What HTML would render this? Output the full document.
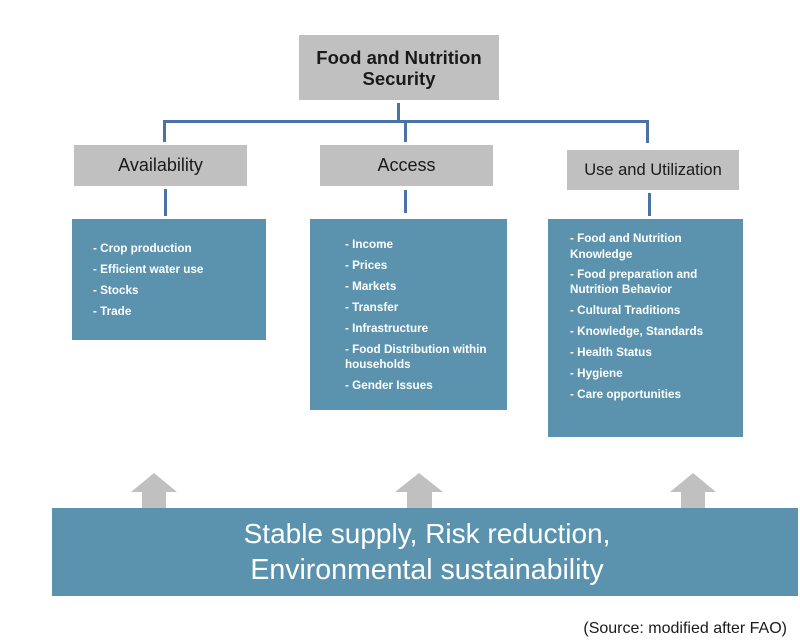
<!DOCTYPE html>
<html>
<head>
<meta charset="utf-8">
<style>
  html, body { margin: 0; padding: 0; background: #ffffff; }
  body { width: 800px; height: 640px; overflow: hidden; }
  svg { display: block; }
  .t { font-family: "Liberation Sans", Arial, sans-serif; }
  .item { font-family: "Liberation Sans", Arial, sans-serif; font-weight: bold; font-size: 11.7px; fill: #ffffff; }
</style>
</head>
<body>
<svg width="800" height="640" viewBox="0 0 800 640" xmlns="http://www.w3.org/2000/svg">
  <rect x="0" y="0" width="800" height="640" fill="#ffffff"/>

  <!-- Top box -->
  <rect x="299" y="35" width="200" height="65" fill="#c0c0c0"/>
  <text class="t" x="399" y="64" text-anchor="middle" font-size="18.5" font-weight="bold" fill="#1a1a1a">Food and Nutrition</text>
  <text class="t" x="399" y="85" text-anchor="middle" font-size="18.5" font-weight="bold" fill="#1a1a1a">Security</text>

  <!-- Connectors -->
  <g fill="#4a72a9">
    <rect x="397" y="103" width="3" height="19"/>
    <rect x="163" y="120" width="486" height="3"/>
    <rect x="163" y="120" width="3" height="22"/>
    <rect x="404" y="120" width="3" height="22"/>
    <rect x="646" y="120" width="3" height="23"/>
    <rect x="164" y="189" width="3" height="27"/>
    <rect x="404" y="190" width="3" height="23"/>
    <rect x="648" y="193" width="3" height="23"/>
  </g>

  <!-- Second level gray boxes -->
  <rect x="74" y="145" width="173" height="41" fill="#c0c0c0"/>
  <text class="t" x="160.5" y="171" text-anchor="middle" font-size="18" fill="#1a1a1a">Availability</text>

  <rect x="320" y="145" width="173" height="41" fill="#c0c0c0"/>
  <text class="t" x="406.5" y="171" text-anchor="middle" font-size="18" fill="#1a1a1a">Access</text>

  <rect x="567" y="150" width="172" height="40" fill="#c0c0c0"/>
  <text class="t" x="653" y="175" text-anchor="middle" font-size="16.5" fill="#1a1a1a">Use and Utilization</text>

  <!-- Blue detail boxes -->
  <rect x="72" y="219" width="194" height="121" fill="#5b93ae"/>
  <text class="item" x="93" y="252">- Crop production</text>
  <text class="item" x="93" y="273">- Efficient water use</text>
  <text class="item" x="93" y="294">- Stocks</text>
  <text class="item" x="93" y="315">- Trade</text>

  <rect x="310" y="219" width="197" height="191" fill="#5b93ae"/>
  <text class="item" x="345" y="248">- Income</text>
  <text class="item" x="345" y="269">- Prices</text>
  <text class="item" x="345" y="290">- Markets</text>
  <text class="item" x="345" y="311">- Transfer</text>
  <text class="item" x="345" y="332">- Infrastructure</text>
  <text class="item" x="345" y="353">- Food Distribution within</text>
  <text class="item" x="345" y="368">households</text>
  <text class="item" x="345" y="389">- Gender Issues</text>

  <rect x="548" y="219" width="195" height="218" fill="#5b93ae"/>
  <text class="item" x="570" y="242">- Food and Nutrition</text>
  <text class="item" x="570" y="258">Knowledge</text>
  <text class="item" x="570" y="278">- Food preparation and</text>
  <text class="item" x="570" y="293">Nutrition Behavior</text>
  <text class="item" x="570" y="314">- Cultural Traditions</text>
  <text class="item" x="570" y="335">- Knowledge, Standards</text>
  <text class="item" x="570" y="356">- Health Status</text>
  <text class="item" x="570" y="377">- Hygiene</text>
  <text class="item" x="570" y="398">- Care opportunities</text>

  <!-- Up arrows -->
  <g fill="#c0c0c0">
    <polygon points="154,473 177,492 166,492 166,509 142,509 142,492 131,492"/>
    <polygon points="419,473 443,492 432,492 432,509 407,509 407,492 395,492"/>
    <polygon points="693,473 716,492 705,492 705,509 681,509 681,492 670,492"/>
  </g>

  <!-- Bottom bar -->
  <rect x="52" y="508" width="746" height="88" fill="#5b93ae"/>
  <text class="t" x="427" y="543" text-anchor="middle" font-size="28" fill="#ffffff">Stable supply, Risk reduction,</text>
  <text class="t" x="427" y="579" text-anchor="middle" font-size="28.5" fill="#ffffff">Environmental sustainability</text>

  <!-- Source -->
  <text class="t" x="787" y="633" text-anchor="end" font-size="16" fill="#1a1a1a">(Source: modified after FAO)</text>
</svg>
</body>
</html>
